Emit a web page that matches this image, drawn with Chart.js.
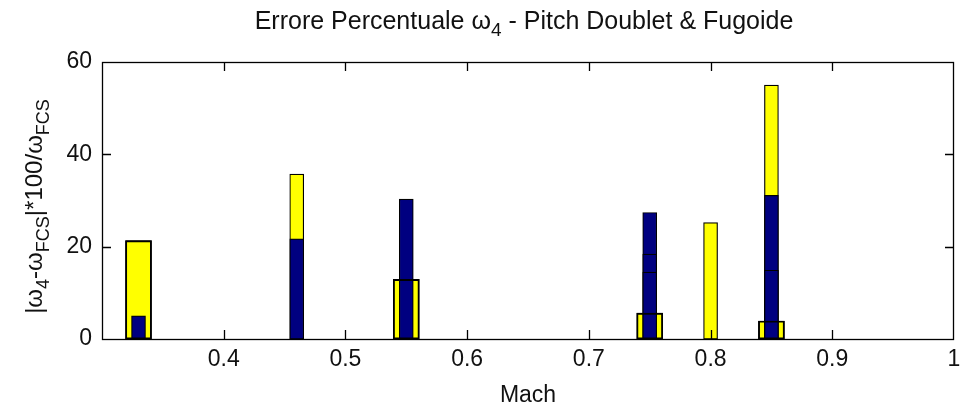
<!DOCTYPE html>
<html>
<head>
<meta charset="utf-8">
<script src="https://cdn.jsdelivr.net/npm/chart.js@4/dist/chart.umd.min.js"></script>
<style>
  html, body { margin: 0; padding: 0; background: #fff; }
  #wrap { width: 964px; height: 412px; }
</style>
</head>
<body>
<div id="wrap"><canvas id="c" width="964" height="412"></canvas></div>
<script>
// Percentage error of omega_4 per Mach number
const machWide   = [0.33, 0.55, 0.75, 0.85];
const errWide    = [21.3, 12.9, 5.6, 3.9];
const machNarrow = [0.46, 0.80, 0.85];
const errNarrow  = [35.7, 25.2, 55.0];
const machNavy   = [0.33, 0.46, 0.55, 0.75, 0.85];
const errNavy    = [5.0, 21.7, 30.3, 27.4, 31.1];
const machNavy2  = [0.75, 0.85];
const errNavy2   = [18.4, 14.9];
const machNavy3  = [0.75];
const errNavy3   = [14.5];

const xTickValues = [0.4, 0.5, 0.6, 0.7, 0.8, 0.9, 1];
const yTickValues = [0, 20, 40, 60];

const FONT = "'Liberation Sans', Arial, sans-serif";
const YELLOW = '#FFFF00';
const NAVY = '#000080';

const pts = (xs, ys) => xs.map((x, i) => ({ x: x, y: ys[i] }));

function barSet(xs, ys, fill, thick, order) {
  return {
    data: pts(xs, ys),
    backgroundColor: fill,
    borderColor: '#000',
    borderWidth: 1.2,
    borderSkipped: false,
    barThickness: thick,
    grouped: false,
    order: order
  };
}

function drawRich(ctx, segs, size, subSize, subShift) {
  const fMain = size + 'px ' + FONT, fSub = subSize + 'px ' + FONT;
  let w = 0;
  segs.forEach(s => { ctx.font = s.sub ? fSub : fMain; w += ctx.measureText(s.t).width; });
  let x = -w / 2;
  segs.forEach(s => {
    ctx.font = s.sub ? fSub : fMain;
    ctx.fillText(s.t, x, s.sub ? subShift : 0);
    x += ctx.measureText(s.t).width;
  });
}

// Axes box, inward ticks, title and y label with subscripts
const framePlugin = {
  id: 'frame',
  afterDatasetsDraw(chart) {
    const { ctx, chartArea: a, scales } = chart;
    const tl = 9;
    ctx.save();
    ctx.strokeStyle = '#000';
    ctx.lineWidth = 1.3;
    ctx.beginPath();
    xTickValues.forEach(v => {
      const px = Math.round(scales.x.getPixelForValue(v)) + 0.5;
      if (px <= a.left + 1 || px >= a.right - 1) return;
      ctx.moveTo(px, a.bottom); ctx.lineTo(px, a.bottom - tl);
      ctx.moveTo(px, a.top); ctx.lineTo(px, a.top + tl);
    });
    yTickValues.forEach(v => {
      const py = Math.round(scales.y.getPixelForValue(v)) + 0.5;
      if (py <= a.top + 1 || py >= a.bottom - 1) return;
      ctx.moveTo(a.left, py); ctx.lineTo(a.left + tl, py);
      ctx.moveTo(a.right, py); ctx.lineTo(a.right - tl, py);
    });
    ctx.stroke();
    ctx.strokeRect(a.left + 0.5, a.top + 0.5, a.right - a.left - 1, a.bottom - a.top);
    ctx.restore();
  },
  afterDraw(chart) {
    const { ctx, chartArea: a } = chart;
    ctx.save();
    ctx.fillStyle = '#111';
    ctx.textBaseline = 'alphabetic';
    ctx.textAlign = 'left';
    ctx.translate((a.left + a.right) / 2 - 4, 29);
    drawRich(ctx, [
      { t: 'Errore Percentuale \u03c9' },
      { t: '4', sub: true },
      { t: ' - Pitch Doublet & Fugoide' }
    ], 25, 19, 7);
    ctx.restore();

    ctx.save();
    ctx.fillStyle = '#111';
    ctx.textBaseline = 'alphabetic';
    ctx.textAlign = 'left';
    ctx.translate(42, (a.top + a.bottom) / 2 + 6);
    ctx.rotate(-Math.PI / 2);
    drawRich(ctx, [
      { t: '|\u03c9' },
      { t: '4', sub: true },
      { t: '-\u03c9' },
      { t: 'FCS', sub: true },
      { t: '|*100/\u03c9' },
      { t: 'FCS', sub: true }
    ], 24, 18, 7);
    ctx.restore();
  }
};

new Chart(document.getElementById('c'), {
  type: 'bar',
  data: {
    datasets: [
      barSet(machWide, errWide, YELLOW, 26, 6),
      barSet(machNarrow, errNarrow, YELLOW, 14, 5),
      barSet(machNavy, errNavy, NAVY, 14, 4),
      barSet(machNavy2, errNavy2, NAVY, 14, 3),
      barSet(machNavy3, errNavy3, NAVY, 14, 2),
      // outline of the wide bars laid over the navy ones
      barSet(machWide, errWide, 'rgba(0,0,0,0)', 26, 1)
    ]
  },
  options: {
    responsive: false,
    animation: false,
    devicePixelRatio: 1,
    layout: { padding: { top: 62, right: 10, left: 0, bottom: 0 } },
    plugins: {
      legend: { display: false },
      tooltip: { enabled: false },
      title: { display: false }
    },
    scales: {
      x: {
        type: 'linear',
        min: 0.3,
        max: 1,
        offset: false,
        afterBuildTicks(s) { s.ticks = xTickValues.map(v => ({ value: v })); },
        afterFit(s) { s.height = 73; s.paddingLeft = 0; s.paddingRight = 0; },
        grid: { display: false, drawTicks: false, offset: false },
        border: { display: false },
        ticks: {
          color: '#111',
          padding: 7,
          maxRotation: 0,
          autoSkip: false,
          font: { family: FONT, size: 23 },
          callback: v => String(+v.toFixed(1))
        },
        title: {
          display: true,
          text: 'Mach',
          color: '#111',
          padding: { top: 0, bottom: 3 },
          font: { family: FONT, size: 23 }
        }
      },
      y: {
        min: 0,
        max: 60,
        afterBuildTicks(s) { s.ticks = yTickValues.map(v => ({ value: v })); },
        afterFit(s) { s.width = 102; s.paddingTop = 0; s.paddingBottom = 0; },
        grid: { display: false, drawTicks: false },
        border: { display: false },
        ticks: {
          color: '#111',
          padding: 10,
          autoSkip: false,
          font: { family: FONT, size: 23 }
        }
      }
    }
  },
  plugins: [framePlugin]
});
</script>
</body>
</html>
